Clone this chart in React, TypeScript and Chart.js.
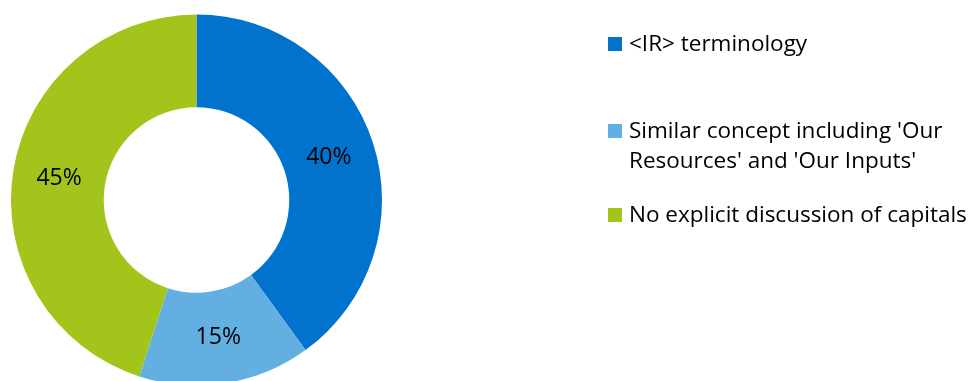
import React, { useEffect, useRef } from "react";
import { Chart, registerables } from "chart.js";

Chart.register(...registerables);

const categories: string[][] = [
  ["<IR> terminology"],
  ["Similar concept including 'Our", "Resources' and 'Our Inputs'"],
  ["No explicit discussion of capitals"],
];
const values: number[] = [40, 15, 45];
const colors: string[] = ["#0273cd", "#63afe2", "#a3c51b"];

const FONT = "'Open Sans', 'Liberation Sans', sans-serif";

const labelPlugin = {
  id: "sliceLabels",
  afterDatasetsDraw(chart: any) {
    const ctx = chart.ctx;
    const meta = chart.getDatasetMeta(0);
    const data = chart.data.datasets[0].data as number[];
    const total = data.reduce((a, b) => a + b, 0);
    ctx.save();
    ctx.font = `23px ${FONT}`;
    ctx.fillStyle = "#000";
    ctx.textAlign = "center";
    ctx.textBaseline = "middle";
    meta.data.forEach((arc: any, i: number) => {
      const p = arc.tooltipPosition();
      ctx.fillText(Math.round((data[i] / total) * 100) + "%", p.x, p.y);
    });
    ctx.restore();
  },
};

const legendPlugin = {
  id: "sideLegend",
  afterDraw(chart: any) {
    const ctx = chart.ctx;
    const labels = chart.data.labels as string[][];
    const bg = chart.data.datasets[0].backgroundColor as string[];
    const baselines = [51, 138, 222];
    const lineH = 30;
    ctx.save();
    ctx.font = `22.5px ${FONT}`;
    ctx.textAlign = "left";
    ctx.textBaseline = "alphabetic";
    labels.forEach((lines, i) => {
      const b = baselines[i];
      ctx.fillStyle = bg[i];
      ctx.fillRect(608, b - 14, 14, 14);
      ctx.fillStyle = "#000";
      lines.forEach((ln, j) => ctx.fillText(ln, 629, b + j * lineH));
    });
    ctx.restore();
  },
};

export default function App() {
  const ref = useRef<HTMLCanvasElement>(null);
  useEffect(() => {
    if (!ref.current) return;
    const chart = new Chart(ref.current, {
      type: "doughnut",
      data: {
        labels: categories as any,
        datasets: [
          {
            data: values,
            backgroundColor: colors,
            borderWidth: 0,
          },
        ],
      },
      options: {
        responsive: false,
        animation: false,
        cutout: "50%",
        layout: { padding: { left: 11, top: 14, right: 597, bottom: 4 } },
        plugins: {
          legend: { display: false },
          tooltip: { enabled: false },
        },
      },
      plugins: [labelPlugin, legendPlugin],
    });
    return () => chart.destroy();
  }, []);
  return (
    <div
      style={{
        position: "fixed",
        left: 0,
        top: 0,
        width: 979,
        height: 381,
        overflow: "hidden",
        background: "#fff",
      }}
    >
      <canvas ref={ref} width={979} height={390} style={{ display: "block" }} />
    </div>
  );
}
